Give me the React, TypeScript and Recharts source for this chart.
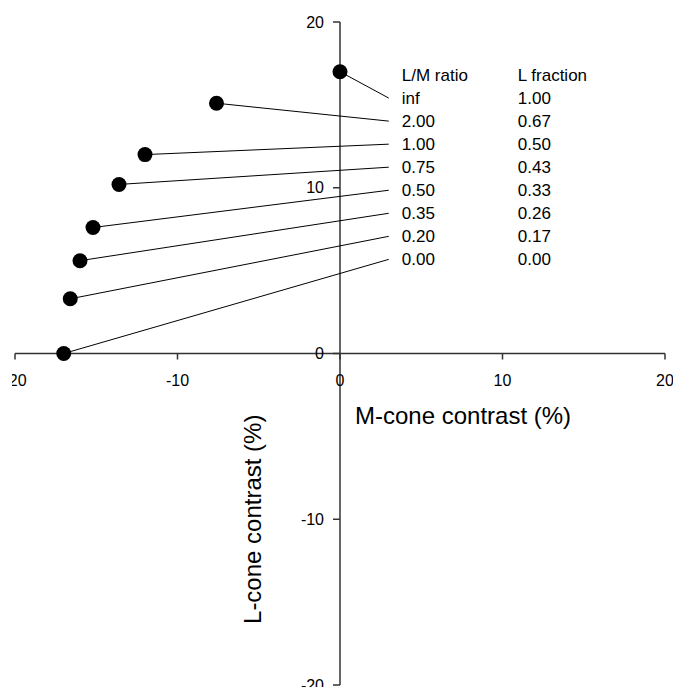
import { ScatterChart, Scatter, XAxis, YAxis, ReferenceLine } from "recharts";

// cone contrast of each stimulus, one per L/M ratio
const ratioLabels = ["inf", "2.00", "1.00", "0.75", "0.50", "0.35", "0.20", "0.00"];
const fractionLabels = ["1.00", "0.67", "0.50", "0.43", "0.33", "0.26", "0.17", "0.00"];
const mContrast = [0, -7.6, -12.0, -13.6, -15.2, -16.0, -16.6, -17.0];
const lContrast = [17.0, 15.1, 12.0, 10.2, 7.6, 5.6, 3.3, 0];
const axisTicks = [-20, -10, 0, 10, 20];

// table of labels sits to the right of the y axis
const headerY = 16.8;
const rowStep = 1.39;
const labelX = 3.0;

const FONT = "'Liberation Sans', Arial, Helvetica, sans-serif";
const AXIS = "#333";

const dots = mContrast.map((x, i) => ({ x, y: lContrast[i] }));
const rows = ratioLabels.map((ratio, i) => ({
  x: labelX,
  y: headerY - (i + 1) * rowStep,
  ratio,
  fraction: fractionLabels[i],
}));
const header = [{ x: labelX, y: headerY, ratio: "L/M ratio", fraction: "L fraction" }];
const xTicks = axisTicks.map((t) => ({ x: t, y: 0 }));
const yTicks = axisTicks.map((t) => ({ x: 0, y: t }));

const XTick = (p: any) => (
  <g>
    <line x1={p.cx} y1={p.cy} x2={p.cx} y2={p.cy + 6} stroke={AXIS} strokeWidth={1.5} />
    <text x={p.cx} y={p.cy + 27} textAnchor="middle" dominantBaseline="central" fontSize={16} fontFamily={FONT} fill="#000">
      {p.payload.x}
    </text>
  </g>
);

const YTick = (p: any) => (
  <g>
    <line x1={p.cx - 7} y1={p.cy} x2={p.cx} y2={p.cy} stroke={AXIS} strokeWidth={1.5} />
    <text x={p.cx - 16} y={p.cy} textAnchor="end" dominantBaseline="central" fontSize={16} fontFamily={FONT} fill="#000">
      {p.payload.y}
    </text>
  </g>
);

const RowLabel = (p: any) => (
  <g fontSize={17} fontFamily={FONT} fill="#000">
    <text x={p.cx + 13} y={p.cy} dominantBaseline="central">{p.payload.ratio}</text>
    <text x={p.cx + 129} y={p.cy} dominantBaseline="central">{p.payload.fraction}</text>
  </g>
);

const MTitle = (p: any) => (
  <text x={p.cx + 15} y={p.cy + 62} dominantBaseline="central" fontSize={24} fontFamily={FONT} fill="#000">
    M-cone contrast (%)
  </text>
);

const LTitle = (p: any) => (
  <text
    x={p.cx - 88}
    y={p.cy}
    transform={`rotate(-90 ${p.cx - 88} ${p.cy})`}
    textAnchor="middle"
    dominantBaseline="central"
    fontSize={24}
    fontFamily={FONT}
    fill="#000"
  >
    L-cone contrast (%)
  </text>
);

export default function App() {
  return (
    <div style={{ position: "absolute", left: 12, top: 0, width: 661, height: 687, overflow: "hidden" }}>
      <style>{"body{margin:0;overflow:hidden;background:#fff}"}</style>
      <ScatterChart width={661} height={687} margin={{ top: 22, right: 8, bottom: 2, left: 3 }}>
        <XAxis type="number" dataKey="x" domain={[-20, 20]} hide />
        <YAxis type="number" dataKey="y" domain={[-20, 20]} hide />

        <ReferenceLine y={0} stroke={AXIS} strokeWidth={1.5} />
        <ReferenceLine x={0} stroke={AXIS} strokeWidth={1.5} />

        {dots.map((d, i) => (
          <ReferenceLine
            key={i}
            segment={[{ x: d.x, y: d.y }, { x: rows[i].x, y: rows[i].y }]}
            stroke="#000"
            strokeWidth={1}
          />
        ))}

        <Scatter data={xTicks} shape={XTick} isAnimationActive={false} />
        <Scatter data={yTicks} shape={YTick} isAnimationActive={false} />
        <Scatter data={header} shape={RowLabel} isAnimationActive={false} />
        <Scatter data={rows} shape={RowLabel} isAnimationActive={false} />
        <Scatter data={[{ x: 0, y: 0 }]} shape={MTitle} isAnimationActive={false} />
        <Scatter data={[{ x: 0, y: -10 }]} shape={LTitle} isAnimationActive={false} />
        <Scatter
          data={dots}
          fill="#000"
          shape={(p: any) => <circle cx={p.cx} cy={p.cy} r={7.5} fill="#000" />}
          isAnimationActive={false}
        />
      </ScatterChart>
    </div>
  );
}
